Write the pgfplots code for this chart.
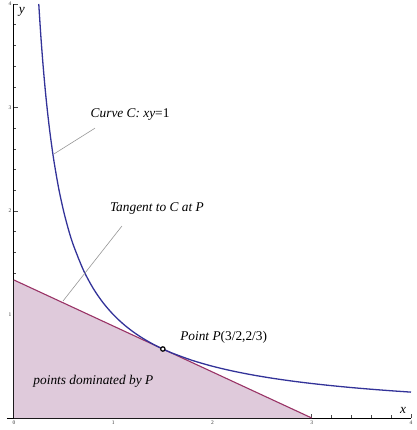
\documentclass[border=0pt]{standalone}
\usepackage{fontspec}
\setmainfont{Liberation Serif}
\usepackage{pgfplots}
\pgfplotsset{compat=1.18}
\definecolor{curveblue}{RGB}{51,51,153}
\definecolor{tanred}{RGB}{153,51,102}
\definecolor{domfill}{RGB}{223,202,219}
\definecolor{leader}{RGB}{150,150,150}
\begin{document}
\begin{tikzpicture}
\begin{axis}[
  scale only axis,
  width=404bp, height=414bp,
  xmin=-0.07, xmax=4, ymin=0, ymax=4,
  axis lines=middle,
  axis line style={line width=0.9bp, -},
  clip=false,
  xtick={0,1,2,3,4}, ytick={1,2,3,4},
  hide obscured x ticks=false,
  minor tick num=4,
  tick align=inside,
  major tick length=4bp, minor tick length=2.5bp,
  tick style={line width=0.5bp, black!70},
  ticklabel style={font=\fontsize{5.5}{6}\selectfont, text=black!80},
  /pgf/number format/assume math mode=true,
  xticklabel style={yshift=1bp},
  yticklabel style={xshift=1bp},
]
\addplot[fill=domfill, draw=none] coordinates {(0,0) (0,1.33333) (3,0)} -- cycle;
\addplot[tanred, line width=1.1bp] coordinates {(0,1.33333) (3,0)};
\addplot[curveblue, line width=1.3bp, smooth] coordinates {
(0.25,4) (0.27,3.7037) (0.29,3.4483) (0.31,3.2258) (0.33,3.0303) (0.36,2.7778)
(0.4,2.5) (0.45,2.2222) (0.5,2) (0.55,1.8182) (0.6,1.6667) (0.7,1.4286)
(0.8,1.25) (0.9,1.1111) (1.0,1) (1.1,0.9091) (1.2,0.8333) (1.3,0.7692)
(1.4,0.7143) (1.5,0.6667) (1.6,0.625) (1.8,0.5556) (2.0,0.5) (2.2,0.4545)
(2.4,0.4167) (2.6,0.3846) (2.8,0.3571) (3.0,0.3333) (3.2,0.3125) (3.4,0.2941)
(3.6,0.2778) (3.8,0.2632) (4.0,0.25)};
\addplot[leader, line width=0.6bp] coordinates {(0.403,2.551) (0.816,2.80)};
\addplot[leader, line width=0.6bp] coordinates {(0.494,1.13) (1.088,1.855)};
\addplot[only marks, mark=*, mark size=2.2bp, mark options={fill=white, draw=black, line width=1.2bp}] coordinates {(1.5,0.66667)};
\node[font=\fontsize{13.4}{15}\selectfont] at (axis cs:1.17,2.93) {\textit{Curve C: xy}=1};
\node[font=\fontsize{13.4}{15}\selectfont] at (axis cs:1.44,2.02) {\textit{Tangent to C at P}};
\node[font=\fontsize{13.4}{15}\selectfont, anchor=west] at (axis cs:1.64,0.775) {\textit{Point P}(3/2,2/3)};
\node[font=\fontsize{13.4}{15}\selectfont] at (axis cs:0.8,0.357) {\textit{points dominated by P}};
\node[font=\fontsize{13.4}{15}\selectfont] at (axis cs:0.08,3.92) {\textit{y}};
\node[font=\fontsize{13.4}{15}\selectfont] at (axis cs:3.92,0.075) {\textit{x}};
\end{axis}
\pgfresetboundingbox
\useasboundingbox ([shift={(-7bp,-12bp)}]current axis.south west) rectangle ([shift={(6bp,4bp)}]current axis.north east);
\end{tikzpicture}
\end{document}
